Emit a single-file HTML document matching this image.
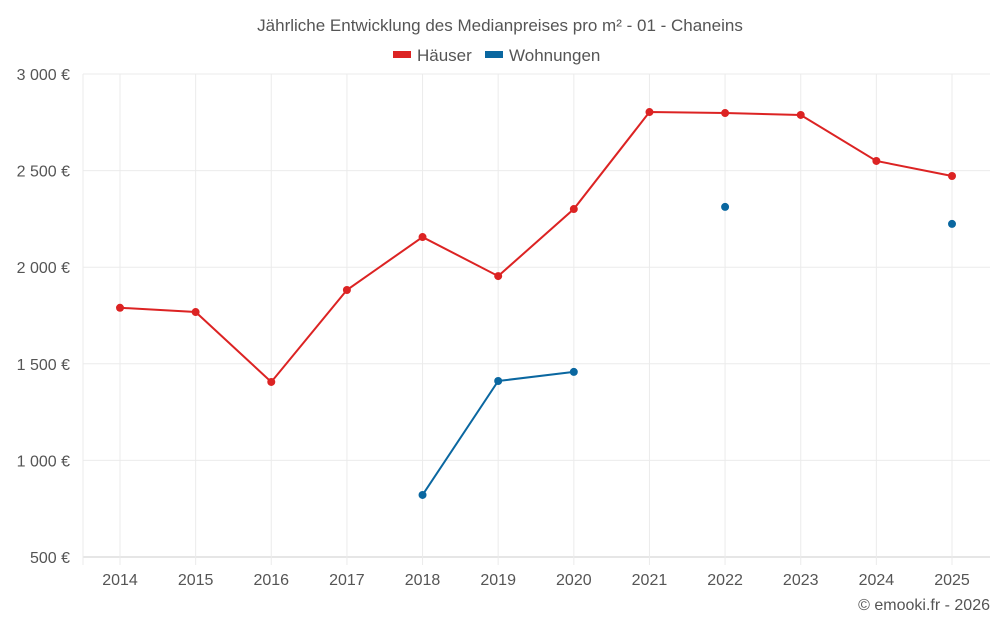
<!DOCTYPE html>
<html><head><meta charset="utf-8"><style>
body{margin:0;background:#fff;font-family:"Liberation Sans",sans-serif}
svg text{font-family:"Liberation Sans",sans-serif;fill:#555}
</style></head><body>
<svg id="c" width="1000" height="625">
<text x="500" y="31" text-anchor="middle" font-size="17">Jährliche Entwicklung des Medianpreises pro m² - 01 - Chaneins</text>
<g><rect x="393" y="51" width="18" height="7" fill="#dc2323"/><text x="417" y="61" font-size="17">Häuser</text></g>
<g><rect x="485" y="51" width="18" height="7" fill="#0a67a0"/><text x="509" y="61" font-size="17">Wohnungen</text></g>
<g id="grid"></g><g id="marks"></g>
<text x="990" y="610" text-anchor="end" font-size="16">© emooki.fr - 2026</text>
</svg>
<script>
const years=[2014,2015,2016,2017,2018,2019,2020,2021,2022,2023,2024,2025];
const haeuser=[1790,1768,1406,1882,2156,1954,2301,2803,2798,2788,2550,2472];
const wohnungen=[null,null,null,null,821,1411,1458,null,2312,null,null,2224];
const yTicks=[500,1000,1500,2000,2500,3000];
const yLabels=["500 €","1 000 €","1 500 €","2 000 €","2 500 €","3 000 €"];
const NS="http://www.w3.org/2000/svg";
const x=i=>120+i*(832/11);
const y=v=>557-(v-500)*(483/2500);
function mk(t,a,p){const e=document.createElementNS(NS,t);for(const k in a)e.setAttribute(k,a[k]);p.appendChild(e);return e;}
const g=document.getElementById('grid'),m=document.getElementById('marks');
yTicks.forEach((v,i)=>{
 const l=mk('line',{x1:83,x2:990,y1:y(v),y2:y(v),stroke:i==0?'#ccc':'#ebebeb'},g);
 
 
 const t=mk('text',{x:70,y:y(v)+6,'text-anchor':'end','font-size':16},g);t.textContent=yLabels[i];
 
 
});
const l0=mk('line',{x1:83,x2:83,y1:74,y2:565,stroke:'#ebebeb'},g);


years.forEach((yr,i)=>{
 const l=mk('line',{x1:x(i),x2:x(i),y1:74,y2:565,stroke:'#ebebeb'},g);
 
 
 const t=mk('text',{x:x(i),y:585,'text-anchor':'middle','font-size':16},g);t.textContent=yr;
 
 
});
function series(vals,col,name){
 let segs=[],cur=[];
 vals.forEach((v,i)=>{if(v==null){if(cur.length)segs.push(cur);cur=[];}else cur.push([x(i),y(v)]);});
 if(cur.length)segs.push(cur);
 segs.forEach(s=>{if(s.length>1){const p=mk('polyline',{points:s.map(q=>q.join(',')).join(' '),fill:'none',stroke:col,'stroke-width':2},m);
  
  }});
 vals.forEach((v,i)=>{if(v==null)return;const c=mk('circle',{cx:x(i),cy:y(v),r:4,fill:col},m);
  
  });
}
series(haeuser,'#dc2323','haeuser');
series(wohnungen,'#0a67a0','wohnungen');
</script>
</body></html>
